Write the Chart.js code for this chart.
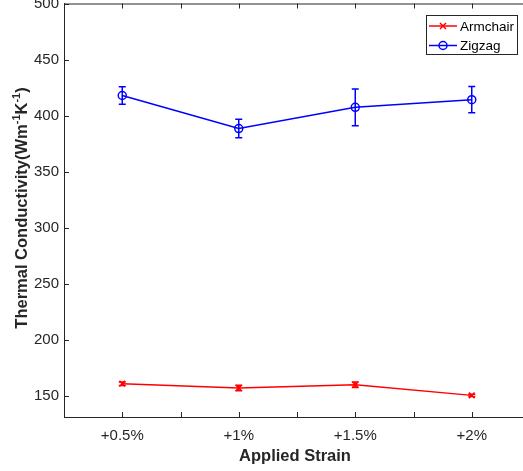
<!DOCTYPE html>
<html>
<head>
<meta charset="utf-8">
<script src="https://cdn.jsdelivr.net/npm/chart.js@4.4.0/dist/chart.umd.min.js"></script>
<style>
  html, body { margin: 0; padding: 0; background: #fff; overflow: hidden; }
  #wrap { width: 523px; height: 471px; overflow: hidden; }
  canvas { display: block; margin-top: -2px; }
</style>
</head>
<body>
<div id="wrap"><canvas id="myChart" width="540" height="473"></canvas></div>
<script>
// categories and tick values
const strainLabels = ['+0.5%', '+1%', '+1.5%', '+2%'];
const strainPos = [1, 2, 3, 4];
const xTicks = [1, 1.5, 2, 2.5, 3, 3.5, 4];
const yTicks = [150, 200, 250, 300, 350, 400, 450, 500];

// series values (W m^-1 K^-1) and error bars
const armchair = [160.7, 156.9, 159.8, 150.3];
const armchairErr = [1.5, 2.5, 2.5, 1.0];
const zigzag = [417.9, 388.4, 407.4, 414.2];
const zigzagErr = [7.8, 8.3, 16.4, 11.8];

const axisColor = '#262626';
const font = 'Liberation Sans, Arial, Helvetica, sans-serif';

function toPoints(vals) {
    return vals.map((v, i) => ({ x: strainPos[i], y: v }));
}

const errorBars = {
    id: 'errorBars',
    afterDatasetsDraw(chart) {
        const ctx = chart.ctx;
        const xs = chart.scales.x, ys = chart.scales.y;
        chart.data.datasets.forEach(ds => {
            ctx.save();
            ctx.strokeStyle = ds.borderColor;
            ctx.lineWidth = 1.5;
            ds.data.forEach((p, i) => {
                const e = ds.errors[i];
                const px = xs.getPixelForValue(p.x);
                const top = ys.getPixelForValue(p.y + e);
                const bot = ys.getPixelForValue(p.y - e);
                ctx.beginPath();
                ctx.moveTo(px, top); ctx.lineTo(px, bot);
                ctx.moveTo(px - 3.5, top); ctx.lineTo(px + 3.5, top);
                ctx.moveTo(px - 3.5, bot); ctx.lineTo(px + 3.5, bot);
                ctx.stroke();
            });
            ctx.restore();
        });
    }
};

// MATLAB style box: inward ticks, top line, axis titles, legend
const matlabAxes = {
    id: 'matlabAxes',
    afterDraw(chart) {
        const ctx = chart.ctx;
        const a = chart.chartArea;
        const xs = chart.scales.x, ys = chart.scales.y;
        ctx.save();
        ctx.strokeStyle = axisColor;
        ctx.lineWidth = 1;
        ctx.beginPath();
        ctx.moveTo(a.left, a.top + 0.5);
        ctx.lineTo(a.right, a.top + 0.5);
        xTicks.forEach(v => {
            const px = Math.round(xs.getPixelForValue(v)) + 0.5;
            ctx.moveTo(px, a.bottom);
            ctx.lineTo(px, a.bottom - 5);
            ctx.moveTo(px, a.top);
            ctx.lineTo(px, a.top + 5);
        });
        yTicks.forEach(v => {
            const py = Math.round(ys.getPixelForValue(v)) + 0.5;
            ctx.moveTo(a.left, py);
            ctx.lineTo(a.left + 5, py);
        });
        ctx.stroke();

        // x title
        ctx.fillStyle = axisColor;
        ctx.font = 'bold 16.5px ' + font;
        ctx.textAlign = 'center';
        ctx.textBaseline = 'middle';
        ctx.fillText('Applied Strain', 295, 458);

        // y title with superscripts
        const parts = [
            ['Thermal Conductivity(Wm', false], ['-1', true],
            ['K', false], ['-1', true], [')', false]
        ];
        const big = 'bold 16.5px ' + font, small = 'bold 11px ' + font;
        let total = 0;
        parts.forEach(([t, sup]) => { ctx.font = sup ? small : big; total += ctx.measureText(t).width; });
        ctx.translate(21, 210);
        ctx.rotate(-Math.PI / 2);
        ctx.textAlign = 'left';
        ctx.textBaseline = 'alphabetic';
        let x = -total / 2;
        parts.forEach(([t, sup]) => {
            ctx.font = sup ? small : big;
            ctx.fillText(t, x, sup ? -1 : 6);
            x += ctx.measureText(t).width;
        });
        ctx.setTransform(1, 0, 0, 1, 0, 0);

        // legend
        const lx = 426, ly = 17, lw = 91, lh = 39;
        ctx.fillStyle = '#fff';
        ctx.fillRect(lx, ly, lw, lh);
        ctx.strokeStyle = axisColor;
        ctx.lineWidth = 1;
        ctx.strokeRect(lx + 0.5, ly + 0.5, lw, lh);
        chart.data.datasets.forEach((ds, i) => {
            const cy = 28 + i * 19.5;
            ctx.strokeStyle = ds.borderColor;
            ctx.lineWidth = 1.5;
            ctx.beginPath();
            ctx.moveTo(429, cy);
            ctx.lineTo(457, cy);
            ctx.stroke();
            ctx.beginPath();
            if (ds.pointStyle === 'circle') {
                ctx.arc(443, cy, 4, 0, Math.PI * 2);
            } else {
                ctx.moveTo(440, cy - 3); ctx.lineTo(446, cy + 3);
                ctx.moveTo(446, cy - 3); ctx.lineTo(440, cy + 3);
            }
            ctx.stroke();
            ctx.fillStyle = '#000';
            ctx.font = '13.5px ' + font;
            ctx.textAlign = 'left';
            ctx.textBaseline = 'middle';
            ctx.fillText(ds.label, 460, cy + 1);
        });
        ctx.restore();
    }
};

const chartContext = document.getElementById('myChart').getContext('2d');
const myChart = new Chart(chartContext, {
    type: 'line',
    data: {
        datasets: [{
            label: 'Armchair',
            data: toPoints(armchair),
            errors: armchairErr,
            borderColor: '#ff0000',
            backgroundColor: '#ff0000',
            borderWidth: 1.5,
            pointStyle: 'crossRot',
            pointRadius: 4,
            pointBorderWidth: 1.5,
            pointBackgroundColor: 'rgba(0,0,0,0)'
        }, {
            label: 'Zigzag',
            data: toPoints(zigzag),
            errors: zigzagErr,
            borderColor: '#0000ff',
            backgroundColor: '#0000ff',
            borderWidth: 1.5,
            pointStyle: 'circle',
            pointRadius: 4,
            pointBorderWidth: 1.5,
            pointBackgroundColor: 'rgba(0,0,0,0)'
        }]
    },
    options: {
        responsive: false,
        animation: false,
        layout: { padding: { top: 1, right: 10, left: 0, bottom: 0 } },
        plugins: {
            legend: { display: false },
            tooltip: { enabled: false }
        },
        scales: {
            x: {
                type: 'linear',
                min: 0.5,
                max: 4.5,
                afterBuildTicks: scale => { scale.ticks = strainPos.map(v => ({ value: v })); },
                afterFit: scale => {
                    scale.height = 54;
                    scale.paddingLeft = 0;
                    scale.paddingRight = 0;
                },
                grid: { drawOnChartArea: false, drawTicks: false },
                border: { color: axisColor, width: 1 },
                ticks: {
                    autoSkip: false,
                    maxRotation: 0,
                    padding: 10,
                    color: axisColor,
                    font: { family: font, size: 15 },
                    callback: v => strainLabels[strainPos.indexOf(v)]
                }
            },
            y: {
                min: 131,
                max: 500,
                afterBuildTicks: scale => { scale.ticks = yTicks.map(v => ({ value: v })); },
                afterFit: scale => {
                    scale.width = 64;
                    scale.paddingTop = 0;
                    scale.paddingBottom = 0;
                },
                grid: { drawOnChartArea: false, drawTicks: false },
                border: { color: axisColor, width: 1 },
                ticks: {
                    padding: 5,
                    color: axisColor,
                    font: { family: font, size: 15 }
                }
            }
        }
    },
    plugins: [errorBars, matlabAxes]
});
</script>
</body>
</html>
